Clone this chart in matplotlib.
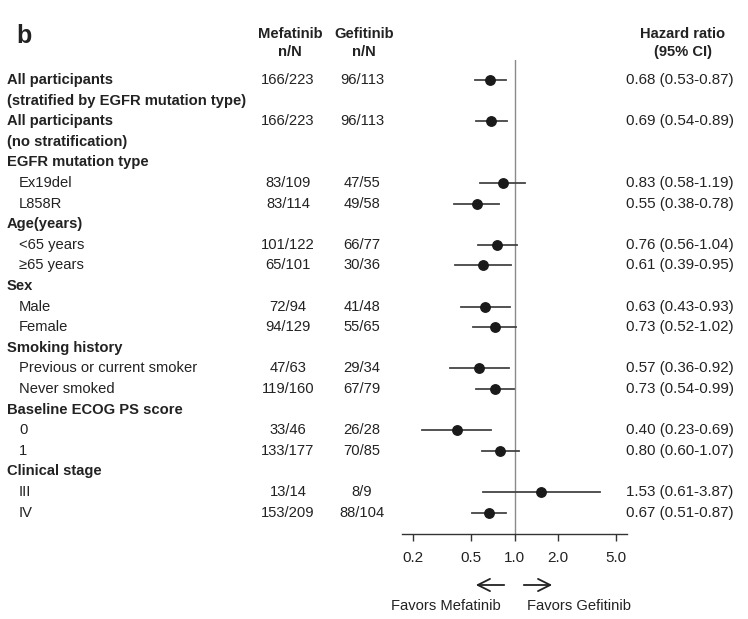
import numpy as np
import matplotlib
matplotlib.use("Agg")
import matplotlib.pyplot as plt
import matplotlib.transforms as mtransforms

plt.rcParams['font.family'] = ['Liberation Sans', 'DejaVu Sans']

# rows of the forest plot, top to bottom
row_labels = ["All participants", "(stratified by EGFR mutation type)",
              "All participants", "(no stratification)",
              "EGFR mutation type", "Ex19del", "L858R",
              "Age(years)", "<65 years", "\u226565 years",
              "Sex", "Male", "Female",
              "Smoking history", "Previous or current smoker", "Never smoked",
              "Baseline ECOG PS score", "0", "1",
              "Clinical stage", "III", "IV"]
# 0 = bold heading, 1 = indented subgroup
row_kind = [0, 0, 0, 0, 0, 1, 1, 0, 1, 1, 0, 1, 1, 0, 1, 1, 0, 1, 1, 0, 1, 1]
mef_nN = ["166/223", None, "166/223", None, None, "83/109", "83/114", None,
          "101/122", "65/101", None, "72/94", "94/129", None, "47/63", "119/160",
          None, "33/46", "133/177", None, "13/14", "153/209"]
gef_nN = ["96/113", None, "96/113", None, None, "47/55", "49/58", None,
          "66/77", "30/36", None, "41/48", "55/65", None, "29/34", "67/79",
          None, "26/28", "70/85", None, "8/9", "88/104"]
hr = [0.68, None, 0.69, None, None, 0.83, 0.55, None, 0.76, 0.61, None,
      0.63, 0.73, None, 0.57, 0.73, None, 0.40, 0.80, None, 1.53, 0.67]
ci_lo = [0.53, None, 0.54, None, None, 0.58, 0.38, None, 0.56, 0.39, None,
         0.43, 0.52, None, 0.36, 0.54, None, 0.23, 0.60, None, 0.61, 0.51]
ci_hi = [0.87, None, 0.89, None, None, 1.19, 0.78, None, 1.04, 0.95, None,
         0.93, 1.02, None, 0.92, 0.99, None, 0.69, 1.07, None, 3.87, 0.87]

xticks = [0.2, 0.5, 1.0, 2.0, 5.0]
xtick_labels = ["0.2", "0.5", "1.0", "2.0", "5.0"]

W, H = 748, 619
fig = plt.figure(figsize=(W / 100, H / 100), dpi=100)

def fx(px):
    return px / W

def fy(py):
    return 1 - py / H

ax = fig.add_axes([fx(402), fy(534), fx(627) - fx(402), fy(60) - fy(534)])
ax.set_xscale('log')
ax.set_xlim(0.1675, 5.97)
ax.set_ylim(22.04, -0.97)

txt = '#222222'
for s in ['top', 'right', 'left']:
    ax.spines[s].set_visible(False)
ax.spines['bottom'].set_color('#333333')
ax.spines['bottom'].set_linewidth(1.0)
ax.set_yticks([])
ax.set_xticks(xticks)
ax.set_xticklabels(xtick_labels, fontsize=11, color=txt)
ax.minorticks_off()
ax.tick_params(axis='x', direction='out', length=5, width=1, color='#333333', pad=7)

ax.axvline(1.0, color='#8a8a8a', lw=1.0, zorder=1)

for i in range(len(row_labels)):
    if hr[i] is None:
        continue
    ax.plot([ci_lo[i], ci_hi[i]], [i, i], color='#444444', lw=1.3, zorder=2)
    ax.plot(hr[i], i, 'o', color='#1a1a1a', ms=6.8, zorder=3)

tr = mtransforms.blended_transform_factory(fig.transFigure, ax.transData)
fs = 10.6
for i, lab in enumerate(row_labels):
    if row_kind[i] == 0:
        fig.text(fx(7), i, lab, transform=tr, fontsize=fs, fontweight='bold',
                 color=txt, va='center', ha='left')
    else:
        fig.text(fx(19), i, lab, transform=tr, fontsize=fs, color=txt,
                 va='center', ha='left')
    if mef_nN[i] is not None:
        fig.text(fx(288), i, mef_nN[i], transform=tr, fontsize=fs, color=txt,
                 va='center', ha='center')
        fig.text(fx(362), i, gef_nN[i], transform=tr, fontsize=fs, color=txt,
                 va='center', ha='center')
        fig.text(fx(626), i, f"{hr[i]:.2f} ({ci_lo[i]:.2f}-{ci_hi[i]:.2f})",
                 transform=tr, fontsize=10.9, color=txt, va='center', ha='left')

# column headers
fig.text(fx(24), fy(36), "b", fontsize=18, fontweight='bold', color=txt,
         ha='center', va='center')
fig.text(fx(290), fy(34), "Mefatinib", fontsize=fs, fontweight='bold', color=txt,
         ha='center', va='center')
fig.text(fx(290), fy(52), "n/N", fontsize=fs, fontweight='bold', color=txt,
         ha='center', va='center')
fig.text(fx(364), fy(34), "Gefitinib", fontsize=fs, fontweight='bold', color=txt,
         ha='center', va='center')
fig.text(fx(364), fy(52), "n/N", fontsize=fs, fontweight='bold', color=txt,
         ha='center', va='center')
fig.text(fx(683), fy(34), "Hazard ratio", fontsize=fs, fontweight='bold', color=txt,
         ha='center', va='center')
fig.text(fx(683), fy(52), "(95% CI)", fontsize=fs, fontweight='bold', color=txt,
         ha='center', va='center')

# direction arrows
arrow = dict(arrowstyle='->', color='#222222', lw=1.3, mutation_scale=22)
fig.patches.append(matplotlib.patches.FancyArrowPatch(
    (fx(507), fy(585)), (fx(473), fy(585)), transform=fig.transFigure, **arrow))
fig.patches.append(matplotlib.patches.FancyArrowPatch(
    (fx(521), fy(585)), (fx(555), fy(585)), transform=fig.transFigure, **arrow))
fig.text(fx(446), fy(606), "Favors Mefatinib", fontsize=fs, color=txt,
         ha='center', va='center')
fig.text(fx(579), fy(606), "Favors Gefitinib", fontsize=fs, color=txt,
         ha='center', va='center')

fig.savefig("out.png", dpi=100)
